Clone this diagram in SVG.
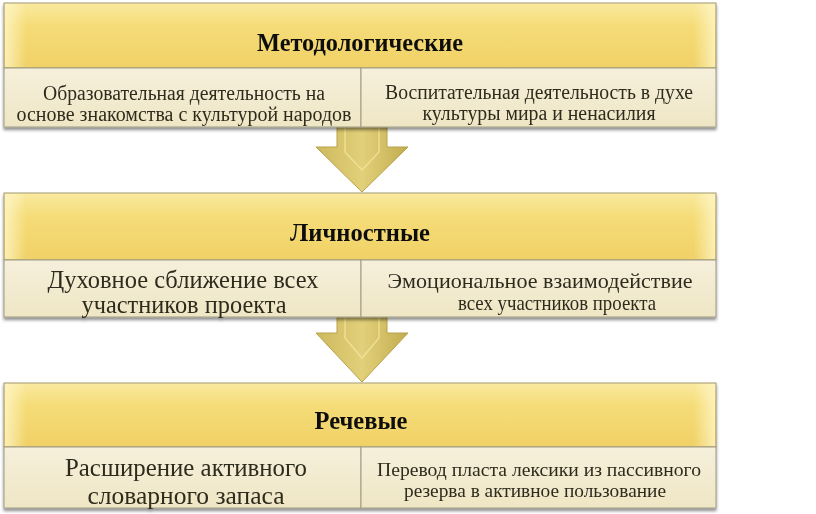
<svg xmlns="http://www.w3.org/2000/svg" width="816" height="514" viewBox="0 0 816 514">
<defs>
<linearGradient id="hdr" x1="0" y1="0" x2="0" y2="1">
<stop offset="0" stop-color="#faeaa0"/>
<stop offset="0.35" stop-color="#f5dc78"/>
<stop offset="1" stop-color="#f0d166"/>
</linearGradient>
<linearGradient id="hdrEdge" x1="0" y1="0" x2="1" y2="0">
<stop offset="0" stop-color="#fff6c8" stop-opacity="0.8"/>
<stop offset="0.03" stop-color="#fff6c8" stop-opacity="0"/>
<stop offset="0.97" stop-color="#fff6c8" stop-opacity="0"/>
<stop offset="1" stop-color="#fff6c8" stop-opacity="0.8"/>
</linearGradient>
<linearGradient id="sub" x1="0" y1="0" x2="0" y2="1">
<stop offset="0" stop-color="#f6f0dc"/>
<stop offset="1" stop-color="#efe6c4"/>
</linearGradient>
<linearGradient id="arr" x1="0" y1="0" x2="1" y2="0">
<stop offset="0" stop-color="#cdb95d"/>
<stop offset="0.5" stop-color="#e2d07a"/>
<stop offset="1" stop-color="#c2ac4e"/>
</linearGradient>
<filter id="sh" x="-5%" y="-20%" width="110%" height="150%">
<feDropShadow dx="0" dy="2.5" stdDeviation="1.8" flood-color="#000" flood-opacity="0.45"/>
</filter>
</defs>
<style>
.hdr{fill:url(#hdr);stroke:#a39c78;stroke-width:1}
.edge{fill:url(#hdrEdge);stroke:none}
.sub{fill:url(#sub);stroke:#9e9a84;stroke-width:1}
.ht{font-family:"Liberation Serif",serif;font-weight:bold;font-size:25px;fill:#111;text-anchor:middle}
.st{font-family:"Liberation Serif",serif;font-size:20px;fill:#2e2b1e;text-anchor:middle}
.st2{font-family:"Liberation Serif",serif;font-size:21px;fill:#2e2b1e;text-anchor:middle}
.st3{font-family:"Liberation Serif",serif;font-size:19px;fill:#2e2b1e;text-anchor:middle}
.lt{font-family:"Liberation Serif",serif;font-size:26px;fill:#2e2b1e;text-anchor:middle}
.lt2{font-family:"Liberation Serif",serif;font-size:25px;fill:#2e2b1e;text-anchor:middle}
.arr{fill:url(#arr);stroke:#b8a24a;stroke-width:1}
.bev{fill:none;stroke:#f3e59c;stroke-width:1.5;stroke-opacity:0.8}
</style>

<g id="connectors">
<g id="arrow1">
<polygon class="arr" points="337,126 387,126 387,147 408,147 362,192 316,147 337,147"/>
<polyline class="bev" points="345,128 345,152 362,170 379,152 379,128"/>
</g>
<g id="arrow2">
<polygon class="arr" points="337,315 387,315 387,333 408,333 362,382 316,333 337,333"/>
<polyline class="bev" points="345,317 345,338 362,358 379,338 379,317"/>
</g>
</g>

<g id="block1" filter="url(#sh)">
<g id="hdr1">
<rect class="hdr" x="4" y="3" width="712" height="65"/>
<rect class="edge" x="5" y="4" width="710" height="63"/>
<text class="ht" x="360" y="51" textLength="206" lengthAdjust="spacingAndGlyphs">Методологические</text>
</g>
<g id="sub1a">
<rect class="sub" x="4" y="68" width="357" height="59"/>
<text class="st" x="184" y="100" textLength="282" lengthAdjust="spacingAndGlyphs">Образовательная деятельность на</text>
<text class="st" x="184" y="121" textLength="335" lengthAdjust="spacingAndGlyphs">основе знакомства с культурой народов</text>
</g>
<g id="sub1b">
<rect class="sub" x="361" y="68" width="355" height="59"/>
<text class="st" x="539" y="99" textLength="308" lengthAdjust="spacingAndGlyphs">Воспитательная деятельность в духе</text>
<text class="st" x="539" y="120" textLength="233" lengthAdjust="spacingAndGlyphs">культуры мира и ненасилия</text>
</g>
</g>

<g id="block2" filter="url(#sh)">
<g id="hdr2">
<rect class="hdr" x="4" y="193" width="712" height="67"/>
<rect class="edge" x="5" y="194" width="710" height="65"/>
<text class="ht" x="360" y="241" textLength="140" lengthAdjust="spacingAndGlyphs">Личностные</text>
</g>
<g id="sub2a">
<rect class="sub" x="4" y="260" width="357" height="57"/>
<text class="lt2" x="183" y="288" textLength="271" lengthAdjust="spacingAndGlyphs">Духовное сближение всех</text>
<text class="lt2" x="184" y="313" textLength="205" lengthAdjust="spacingAndGlyphs">участников проекта</text>
</g>
<g id="sub2b">
<rect class="sub" x="361" y="260" width="355" height="57"/>
<text class="st2" x="540" y="288" textLength="305" lengthAdjust="spacingAndGlyphs">Эмоциональное взаимодействие</text>
<text class="st2" x="557" y="310" textLength="198" lengthAdjust="spacingAndGlyphs">всех участников проекта</text>
</g>
</g>

<g id="block3" filter="url(#sh)">
<g id="hdr3">
<rect class="hdr" x="4" y="383" width="712" height="64"/>
<rect class="edge" x="5" y="384" width="710" height="62"/>
<text class="ht" x="361" y="429" textLength="93" lengthAdjust="spacingAndGlyphs">Речевые</text>
</g>
<g id="sub3a">
<rect class="sub" x="4" y="447" width="357" height="61"/>
<text class="lt" x="186" y="476" textLength="242" lengthAdjust="spacingAndGlyphs">Расширение активного</text>
<text class="lt" x="186" y="504" textLength="197" lengthAdjust="spacingAndGlyphs">словарного запаса</text>
</g>
<g id="sub3b">
<rect class="sub" x="361" y="447" width="355" height="61"/>
<text class="st3" x="539" y="476" textLength="324" lengthAdjust="spacingAndGlyphs">Перевод пласта лексики из пассивного</text>
<text class="st3" x="535" y="497" textLength="262" lengthAdjust="spacingAndGlyphs">резерва в активное пользование</text>
</g>
</g>
</svg>
